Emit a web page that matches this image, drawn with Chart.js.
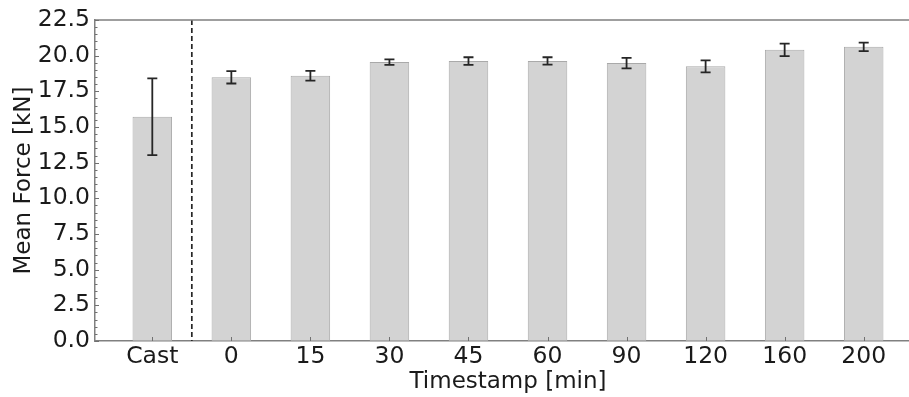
<!DOCTYPE html>
<html>
<head>
<meta charset="utf-8">
<script src="https://cdn.jsdelivr.net/npm/chart.js@4/dist/chart.umd.min.js"></script>
<style>
  html, body { margin: 0; padding: 0; background: #fff; overflow: hidden; }
  #wrap { width: 909px; height: 397px; overflow: hidden; position: relative; }
  canvas { display: block; }
</style>
</head>
<body>
<div id="wrap"><canvas id="c" width="921" height="397"></canvas></div>
<script>
const categories = ['Cast', '0', '15', '30', '45', '60', '90', '120', '160', '200'];
const meanForce = [15.72, 18.48, 18.59, 19.55, 19.62, 19.63, 19.48, 19.25, 20.41, 20.62];
const forceErr = [2.69, 0.43, 0.34, 0.19, 0.27, 0.26, 0.37, 0.42, 0.44, 0.30];
const yTicks = [0, 2.5, 5, 7.5, 10, 12.5, 15, 17.5, 20, 22.5];
const xMin = -0.725, xMax = 9.725;
const separatorAt = 0.5;

const textColor = '#1a1a1a';
const spineColor = '#808080';

const decorPlugin = {
  id: 'decor',
  afterDatasetsDraw(chart) {
    const ctx = chart.ctx;
    const x = chart.scales.x, y = chart.scales.y;
    const ca = chart.chartArea;
    ctx.save();
    // error bars
    ctx.strokeStyle = '#262626';
    ctx.lineWidth = 1.8;
    meanForce.forEach((m, i) => {
      const px = x.getPixelForValue(i);
      const top = y.getPixelForValue(m + forceErr[i]);
      const bot = y.getPixelForValue(m - forceErr[i]);
      ctx.beginPath();
      ctx.moveTo(px, top); ctx.lineTo(px, bot);
      ctx.moveTo(px - 5, top); ctx.lineTo(px + 5, top);
      ctx.moveTo(px - 5, bot); ctx.lineTo(px + 5, bot);
      ctx.stroke();
    });
    // dashed separator
    const sx = x.getPixelForValue(separatorAt);
    ctx.setLineDash([5, 3]);
    ctx.strokeStyle = '#262626';
    ctx.lineWidth = 1.7;
    ctx.beginPath();
    ctx.moveTo(sx, ca.top); ctx.lineTo(sx, ca.bottom);
    ctx.stroke();
    ctx.setLineDash([]);
    // spines top/right
    ctx.strokeStyle = spineColor;
    ctx.lineWidth = 1.5;
    ctx.beginPath();
    ctx.moveTo(ca.left, ca.top); ctx.lineTo(ca.right, ca.top);
    ctx.moveTo(ca.right, ca.top); ctx.lineTo(ca.right, ca.bottom);
    ctx.stroke();
    // inward ticks on y (major + minor)
    ctx.strokeStyle = '#707070';
    ctx.lineWidth = 1;
    const yMin = y.min, yMax = y.max;
    for (let v = yMin; v <= yMax + 1e-9; v += 0.5) {
      const py = Math.round(y.getPixelForValue(v)) + 0.5;
      const isMajor = Math.abs(v / 2.5 - Math.round(v / 2.5)) < 1e-6;
      const len = isMajor ? 4 : 2.5;
      ctx.beginPath();
      ctx.moveTo(ca.left, py); ctx.lineTo(ca.left + len, py);
      ctx.stroke();
    }
    // inward ticks on x at category positions
    categories.forEach((_, i) => {
      const px = Math.round(x.getPixelForValue(i)) + 0.5;
      ctx.beginPath();
      ctx.moveTo(px, ca.bottom); ctx.lineTo(px, ca.bottom - 4);
      ctx.stroke();
    });
    ctx.restore();
  }
};

new Chart(document.getElementById('c'), {
  type: 'bar',
  data: {
    datasets: [{
      data: meanForce.map((v, i) => ({ x: i, y: v })),
      backgroundColor: '#d3d3d3',
      borderColor: '#a9a9a9',
      borderWidth: 1,
      borderSkipped: false,
      barPercentage: 0.5,
      categoryPercentage: 1.0
    }]
  },
  options: {
    responsive: false,
    animation: false,
    devicePixelRatio: 1,
    layout: { padding: { top: 20, right: 0, left: 0, bottom: 0 } },
    plugins: { legend: { display: false }, tooltip: { enabled: false } },
    scales: {
      x: {
        type: 'linear',
        offset: false,
        min: xMin,
        max: xMax,
        afterBuildTicks: (s) => { s.ticks = categories.map((_, i) => ({ value: i })); },
        afterFit: (s) => { s.height = 56; },
        grid: { display: false, drawTicks: false, offset: false },
        border: { display: true, color: spineColor, width: 1.5 },
        ticks: {
          autoSkip: false,
          maxRotation: 0,
          padding: 2,
          color: textColor,
          font: { family: 'DejaVu Sans', size: 23.5 },
          callback: (v) => categories[v] ?? ''
        },
        title: {
          display: true,
          text: 'Timestamp [min]',
          color: textColor,
          font: { family: 'DejaVu Sans', size: 23 },
          padding: { top: 0, bottom: 1 }
        }
      },
      y: {
        type: 'linear',
        min: 0,
        max: 22.5,
        afterBuildTicks: (s) => { s.ticks = yTicks.map(v => ({ value: v })); },
        afterFit: (s) => { s.width = 95; },
        grid: { display: false, drawTicks: false },
        border: { display: true, color: spineColor, width: 1.5 },
        ticks: {
          padding: 5,
          color: textColor,
          font: { family: 'DejaVu Sans', size: 23.5 },
          callback: (v) => Number(v).toFixed(1)
        },
        title: {
          display: true,
          text: 'Mean Force [kN]',
          color: textColor,
          font: { family: 'DejaVu Sans', size: 23 },
          padding: { top: 10, bottom: 0 }
        }
      }
    }
  },
  plugins: [decorPlugin]
});
</script>
</body>
</html>
